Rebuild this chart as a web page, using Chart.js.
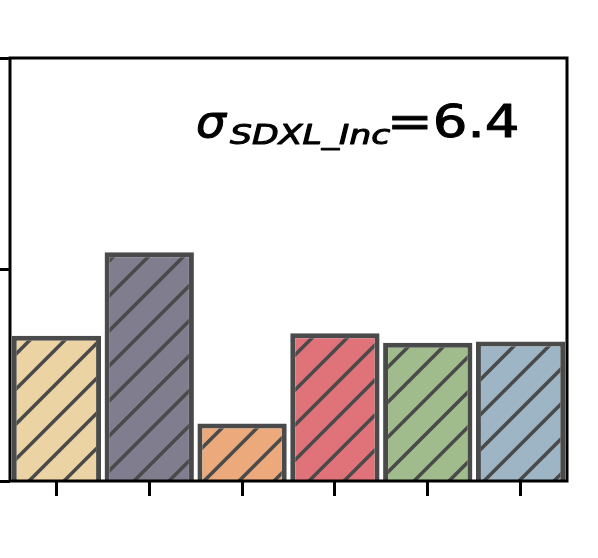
<!DOCTYPE html>
<html>
<head>
<meta charset="utf-8">
<script src="https://cdn.jsdelivr.net/npm/chart.js@4.4.1/dist/chart.umd.min.js"></script>
<style>
  html, body { margin: 0; padding: 0; background: #fff; }
</style>
</head>
<body>
<canvas id="myChart" width="598" height="558"></canvas>
<script>
// data (tick labels are cropped away in the reference)
const labels = ["1", "2", "3", "4", "5", "6"];
const values = [6.87, 10.81, 2.72, 6.98, 6.54, 6.59];
const fillColors = ["#ebd3a4", "#7f7d8e", "#eba97c", "#e0727a", "#a0bc8d", "#9eb5c6"];
const yTicks = [0, 10, 20];
const sigmaName = "SDXL_Inc";
const sigmaValue = "6.4";

const edgeColor = "#4a4a4a";

// "/" hatch drawn into a small tile
const hatch = (color) => {
  const s = 35;
  const c = document.createElement("canvas");
  c.width = s;
  c.height = s;
  const g = c.getContext("2d");
  g.fillStyle = color;
  g.fillRect(0, 0, s, s);
  g.strokeStyle = edgeColor;
  g.lineWidth = 3.5;
  for (const k of [-s, 0, s]) {
    g.beginPath();
    g.moveTo(k - 3, s + 3);
    g.lineTo(k + s + 3, -3);
    g.stroke();
  }
  const p = g.createPattern(c, "repeat");
  p.setTransform(new DOMMatrix().translate(20, 0));
  return p;
};

// four black spines on top of the bars
const frame = {
  id: "frame",
  afterDatasetsDraw(chart) {
    const { ctx, chartArea: a } = chart;
    ctx.save();
    ctx.strokeStyle = "#000";
    ctx.lineWidth = 3;
    ctx.strokeRect(a.left, a.top, a.right - a.left, a.bottom - a.top);
    ctx.restore();
  },
};

// fit a piece of text into an ink box [x0, x1]
const fitText = (ctx, text, font, x0, x1, baseline) => {
  ctx.font = font;
  const m = ctx.measureText(text);
  const ink = m.actualBoundingBoxLeft + m.actualBoundingBoxRight;
  ctx.save();
  ctx.translate(x0, baseline);
  ctx.scale((x1 - x0) / ink, 1);
  ctx.fillText(text, m.actualBoundingBoxLeft, 0);
  ctx.strokeText(text, m.actualBoundingBoxLeft, 0);
  ctx.restore();
};

const sigmaLabel = {
  id: "sigmaLabel",
  afterDraw(chart) {
    const { ctx, chartArea: a } = chart;
    const x = a.left, y = a.top;
    ctx.save();
    ctx.fillStyle = "#000";
    ctx.strokeStyle = "#000";
    ctx.lineWidth = 1;
    ctx.lineJoin = "round";
    ctx.textBaseline = "alphabetic";
    fitText(ctx, "σ", "italic 44px 'DejaVu Sans'", x + 187, x + 217, y + 79);
    fitText(ctx, sigmaName, "italic 26px 'DejaVu Sans'", x + 220, x + 380, y + 86);
    fitText(ctx, "=" + sigmaValue, "44px 'DejaVu Sans'", x + 382, x + 507, y + 79);
    ctx.restore();
  },
};

const data = {
  labels: labels,
  datasets: [
    {
      data: values,
      backgroundColor: fillColors.map(hatch),
      borderColor: edgeColor,
      borderWidth: 5,
      borderSkipped: "start",
      barPercentage: 0.962,
      categoryPercentage: 1,
    },
  ],
};

const config = {
  type: "bar",
  data: data,
  options: {
    responsive: false,
    animation: false,
    devicePixelRatio: 1,
    layout: {
      padding: { top: 58, right: 31, bottom: 62, left: 0 },
    },
    plugins: {
      legend: { display: false },
      tooltip: { enabled: false },
    },
    scales: {
      x: {
        offset: true,
        border: { display: false },
        grid: {
          offset: false,
          drawOnChartArea: false,
          drawTicks: true,
          tickLength: 15,
          tickColor: "#000",
          tickWidth: 3,
        },
        ticks: { display: false },
      },
      y: {
        min: yTicks[0],
        max: yTicks[yTicks.length - 1],
        afterBuildTicks: (scale) => {
          scale.ticks = yTicks.map((v) => ({ value: v }));
        },
        border: { display: false },
        grid: {
          drawOnChartArea: false,
          drawTicks: true,
          tickLength: 10,
          tickColor: "#000",
          tickWidth: 3,
        },
        ticks: { display: false },
      },
    },
  },
  plugins: [frame, sigmaLabel],
};

const ctx = document.getElementById("myChart").getContext("2d");
new Chart(ctx, config);
</script>
</body>
</html>
